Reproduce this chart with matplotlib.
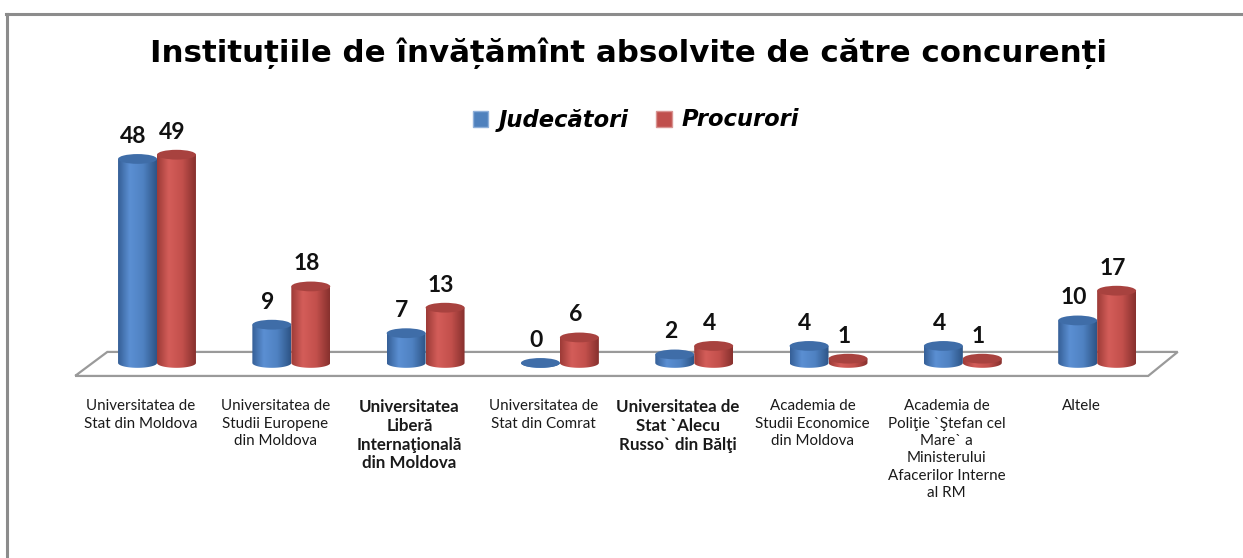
import numpy as np
import matplotlib
matplotlib.use("Agg")
import matplotlib.pyplot as plt
from matplotlib.patches import Ellipse, PathPatch, Patch
from matplotlib.path import Path
from matplotlib.lines import Line2D
from matplotlib.colors import LinearSegmentedColormap

# data
categories = [
    "Universitatea de\nStat din Moldova",
    "Universitatea de\nStudii Europene\ndin Moldova",
    "Universitatea\nLiberă\nInternaţională\ndin Moldova",
    "Universitatea de\nStat din Comrat",
    "Universitatea de\nStat `Alecu\nRusso` din Bălţi",
    "Academia de\nStudii Economice\ndin Moldova",
    "Academia de\nPoliţie `Ştefan cel\nMare` a\nMinisterului\nAfacerilor Interne\nal RM",
    "Altele",
]
bold_labels = [False, False, True, False, True, False, False, False]
judecatori = [48, 9, 7, 0, 2, 4, 4, 10]
procurori = [49, 18, 13, 6, 4, 1, 1, 17]
series_names = ["Judecători", "Procurori"]

title = "Instituțiile de învățămînt absolvite de către concurenți"

blue = dict(flat="#4F81BD", top="#3F6DA8",
            stops=["#355f96", "#5b8fd3", "#4f82c2", "#2d5486"])
red = dict(flat="#C0504D", top="#A8423F",
           stops=["#9c3a37", "#d45d59", "#c3504c", "#86302d"])

W, H = 1243, 558
fig = plt.figure(figsize=(W / 100, H / 100), dpi=100)
ax = fig.add_axes([0, 0, 1, 1])

LBL = ["Lato", "DejaVu Sans"]
WIDE = ["DejaVu Sans"]

bar_w = 0.29
ry = 1.15


def cylinder(ax, xc, v, style, z):
    x0, x1 = xc - bar_w / 2, xc + bar_w / 2
    t = np.linspace(np.pi, 2 * np.pi, 40)
    verts = [(x0, v), (x0, 0)]
    verts += list(zip(xc + bar_w / 2 * np.cos(t), ry * np.sin(t)))
    verts += [(x1, 0), (x1, v), (x0, v)]
    codes = [Path.MOVETO] + [Path.LINETO] * (len(verts) - 2) + [Path.CLOSEPOLY]
    body = PathPatch(Path(verts, codes), facecolor="none", edgecolor="none",
                     transform=ax.transData)
    ax.add_patch(body)
    cmap = LinearSegmentedColormap.from_list(
        "c", list(zip([0, 0.3, 0.65, 1], style["stops"])))
    grad = np.linspace(0, 1, 128).reshape(1, -1)
    im = ax.imshow(grad, extent=[x0, x1, -ry, max(v, 0.01)], aspect="auto",
                   cmap=cmap, interpolation="bicubic", zorder=z)
    im.set_clip_path(body)
    ax.add_patch(Ellipse((xc, v), bar_w, 2 * ry, facecolor=style["top"],
                         edgecolor="none", zorder=z + 0.1))


n = len(categories)
x = np.arange(n)

# floor
floor = [(-0.61, -3.06), (n - 0.62, -3.06), (n - 0.40, 2.59), (-0.37, 2.59),
         (-0.61, -3.06)]
ax.add_patch(PathPatch(Path(floor), facecolor="white", edgecolor="#9a9a9a",
                       lw=1.6, zorder=1))

for i in range(n):
    cylinder(ax, x[i] - 0.145, judecatori[i], blue, 2 + i)
    cylinder(ax, x[i] + 0.145, procurori[i], red, 2.5 + i)
    for xc, v in [(x[i] - 0.145, judecatori[i]), (x[i] + 0.145, procurori[i])]:
        ax.annotate(str(v), (xc, v + ry), xytext=(-3, 8),
                    textcoords="offset points", ha="center", va="baseline",
                    fontsize=16.5, fontweight="bold", family=LBL,
                    color="#111111")
    ax.text(x[i] - 0.12, -8.6, categories[i], ha="center", va="top",
            fontsize=12.2 if bold_labels[i] else 10.9,
            fontweight="bold" if bold_labels[i] else "normal",
            family=LBL, linespacing=1.2 if bold_labels[i] else 1.3,
            color="#1a1a1a")

ax.set_xlim(-1.169, 8.086)
ax.set_ylim(-45.9, 85.4)
ax.set_axis_off()

fig.text(629 / W, 1 - 62 / H, title, ha="center", va="baseline",
         fontsize=22.2, fontweight="bold", family=WIDE)

handles = [Patch(facecolor=blue["flat"], edgecolor="#8fb0da"),
           Patch(facecolor=red["flat"], edgecolor="#d99492")]
fig.legend(handles, series_names, loc="center", ncol=2,
           bbox_to_anchor=(636 / W, 1 - 120 / H), frameon=False,
           prop=dict(family=WIDE, size=16.3, weight="bold", style="italic"),
           handlelength=0.7, handleheight=0.7, handletextpad=0.45,
           columnspacing=1.2)

# chart border (right and bottom sides are outside the crop)
fig.add_artist(Line2D([6.5 / W, 6.5 / W], [0, 1 - 14 / H], color="#8c8c8c",
                      lw=2.2, transform=fig.transFigure))
fig.add_artist(Line2D([6 / W, 1], [1 - 14 / H, 1 - 14 / H], color="#8c8c8c",
                      lw=2.2, transform=fig.transFigure))

fig.savefig("out.png", dpi=100, facecolor="white")
